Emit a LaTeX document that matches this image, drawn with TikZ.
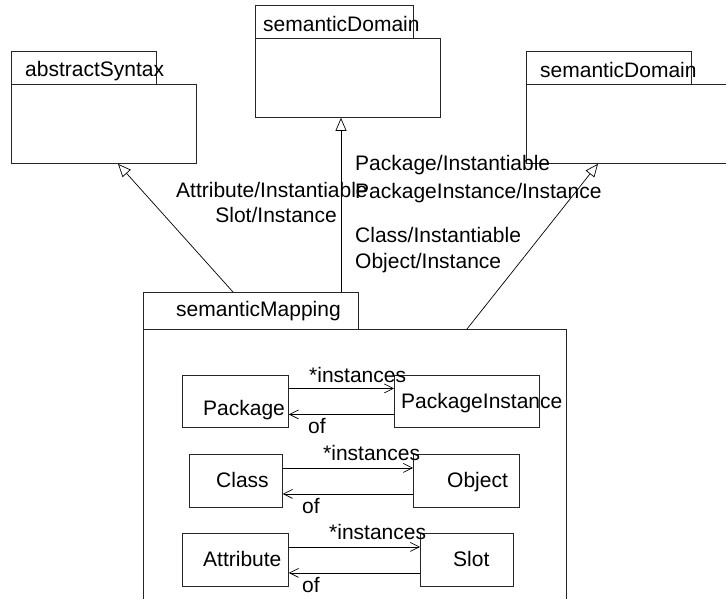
\documentclass[tikz,border=0pt]{standalone}
\usepackage{fontspec}
\setmainfont{Liberation Sans}
\usetikzlibrary{arrows.meta, positioning}

\begin{document}
\begin{tikzpicture}[x=1pt, y=-1pt,
    every node/.style={font=\fontsize{21}{25}\selectfont, inner sep=0pt},
    frame/.style={rectangle, draw=black!85, line width=0.8pt, anchor=north west},
    txt/.style={anchor=base west},
    gen/.style={-{Triangle[open, length=13pt, width=11pt]}, line width=0.7pt},
    assoc/.style={-{Straight Barb[length=9pt, width=9pt]}, line width=0.7pt}]

    \useasboundingbox (0,0) rectangle (726,598);
    \clip (0,0) rectangle (726,598);

    % abstract syntax package
    \node[frame, minimum width=145pt, minimum height=33pt] (abstab) at (11,51) {};
    \node[frame, minimum width=185pt, minimum height=79pt] (absbody) at (11,84) {};
    \node[txt] (absname) at (25,76) {abstractSyntax};

    % semantic domain (centre)
    \node[frame, minimum width=158pt, minimum height=33pt] (cdomtab) at (255,5) {};
    \node[frame, minimum width=185pt, minimum height=79pt] (cdombody) at (255,38) {};
    \node[txt] (cdomname) at (263,31) {semanticDomain};

    % semantic domain (right)
    \node[frame, minimum width=165pt, minimum height=33pt] (rdomtab) at (526,51) {};
    \node[frame, minimum width=210pt, minimum height=79pt] (rdombody) at (526,84) {};
    \node[txt] (rdomname) at (540,77) {semanticDomain};

    % semantic mapping
    \node[frame, minimum width=215pt, minimum height=37pt] (maptab) at (143,292) {};
    \node[frame, minimum width=423pt, minimum height=290pt] (mapbody) at (143,329) {};
    \node[txt] (mapname) at (176,316) {semanticMapping};

    % classes
    \node[frame, minimum width=106pt, minimum height=52pt] (pkg) at (182,375) {};
    \node[frame, minimum width=145pt, minimum height=52pt] (pkginst) at (394,375) {};
    \node[frame, minimum width=93pt, minimum height=53pt] (cls) at (189,454) {};
    \node[frame, minimum width=106pt, minimum height=53pt] (obj) at (413,454) {};
    \node[frame, minimum width=106pt, minimum height=53pt] (attr) at (182,533) {};
    \node[frame, minimum width=93pt, minimum height=53pt] (slot) at (420,533) {};
    \node[txt] (pkgname) at (203,415) {Package};
    \node[txt] (pkginstname) at (401,408) {PackageInstance};
    \node[txt] (clsname) at (216,487) {Class};
    \node[txt] (objname) at (447,487) {Object};
    \node[txt] (attrname) at (203,566) {Attribute};
    \node[txt] (slotname) at (453,566) {Slot};

    % associations
    \draw[assoc] ([yshift=13pt]pkg.east) -- ([yshift=13pt]pkginst.west);
    \draw[assoc] ([yshift=-13pt]pkginst.west) -- ([yshift=-13pt]pkg.east);
    \draw[assoc] ([yshift=13pt]cls.east) -- ([yshift=13pt]obj.west);
    \draw[assoc] ([yshift=-13pt]obj.west) -- ([yshift=-13pt]cls.east);
    \draw[assoc] ([yshift=13pt]attr.east) -- ([yshift=13pt]slot.west);
    \draw[assoc] ([yshift=-13pt]slot.west) -- ([yshift=-13pt]attr.east);
    \node[txt] (inst1) at (309,382) {*instances};
    \node[txt] (of1) at (308,433) {of};
    \node[txt] (inst2) at (323,460) {*instances};
    \node[txt] (of2) at (302,513) {of};
    \node[txt] (inst3) at (329,539) {*instances};
    \node[txt] (of3) at (302,592) {of};

    % generalizations
    \draw[gen] ([xshift=90pt]maptab.north west) -- ([xshift=107pt]absbody.south west);
    \draw[gen] ([xshift=198pt]maptab.north west) -- ([xshift=86pt]cdombody.south west);
    \draw[gen] ([xshift=324pt]mapbody.north west) -- ([xshift=72pt]rdombody.south west);
    \node[txt] (lblattr) at (176,197) {Attribute/Instantiable};
    \node[anchor=base east] (lblslot) at (337,222) {Slot/Instance};
    \node[txt] (lblpkg) at (355,170) {Package/Instantiable};
    \node[txt] (lblpkginst) at (355,198) {PackageInstance/Instance};
    \node[txt] (lblcls) at (355,242) {Class/Instantiable};
    \node[txt] (lblobj) at (355,268) {Object/Instance};
\end{tikzpicture}
\end{document}
